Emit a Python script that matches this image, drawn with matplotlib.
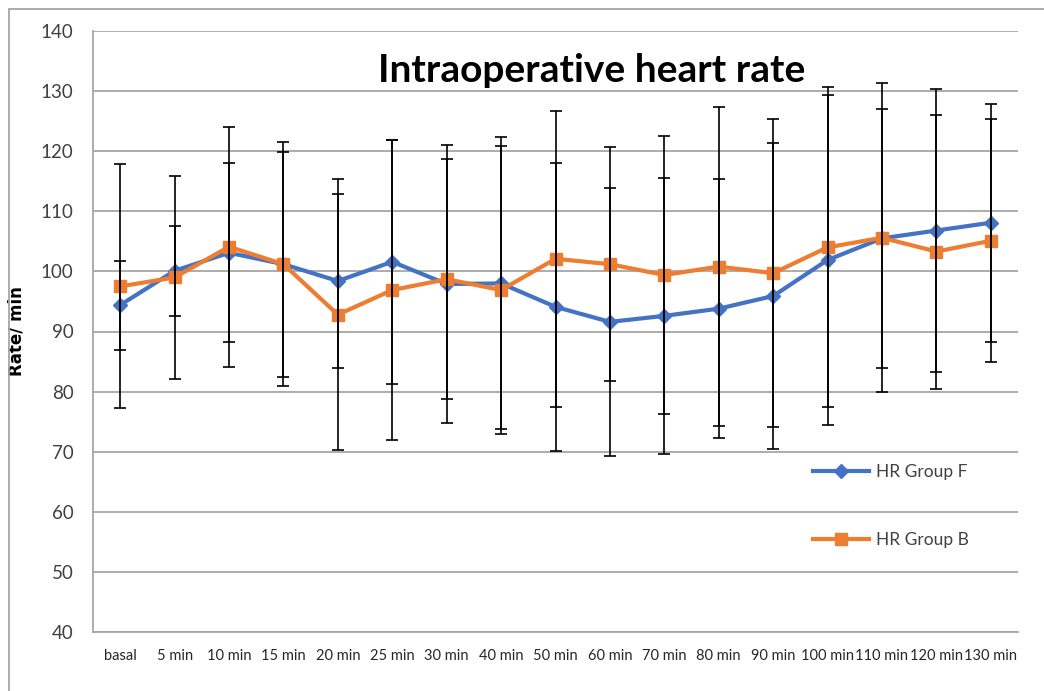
import matplotlib
matplotlib.use("Agg")
import matplotlib.pyplot as plt
from matplotlib.patches import Rectangle

plt.rcParams['font.family'] = ['Lato', 'DejaVu Sans']

# time points
labels = ['basal', '5 min', '10 min', '15 min', '20 min', '25 min', '30 min', '40 min',
          '50 min', '60 min', '70 min', '80 min', '90 min', '100 min', '110 min',
          '120 min', '130 min']

# group F (mean, SD)
hr_f = [94.4, 100.1, 103.1, 101.2, 98.4, 101.6, 97.9, 98.0, 94.1, 91.6, 92.6,
        93.8, 95.9, 101.9, 105.5, 106.8, 108.1]
sd_f = [7.4, 7.5, 14.9, 18.7, 14.4, 20.3, 23.2, 24.3, 24.0, 22.3, 22.9,
        21.6, 25.5, 27.4, 21.6, 23.6, 19.8]

# group B (mean, SD)
hr_b = [97.5, 99.0, 104.1, 101.2, 92.8, 96.9, 98.7, 96.9, 102.1, 101.2, 99.4,
        100.8, 99.7, 104.0, 105.6, 103.3, 105.1]
sd_b = [20.3, 16.9, 20.0, 20.3, 22.6, 25.0, 20.0, 23.9, 24.6, 19.5, 23.1,
        26.5, 25.6, 26.6, 25.7, 22.8, 20.2]

blue = '#4472C4'
orange = '#ED7D31'

fig = plt.figure(figsize=(10.44, 6.91), dpi=100)
ax = fig.add_axes([93/1044, 59/691, 925/1044, 601/691])

x = list(range(len(labels)))

ax.plot(x, hr_f, color=blue, lw=3, marker='D', ms=7, label='HR Group F', zorder=3)
ax.plot(x, hr_b, color=orange, lw=3, marker='s', ms=9, label='HR Group B', zorder=4)

# error bars (black, drawn over the lines)
ax.errorbar(x, hr_f, yerr=sd_f, fmt='none', ecolor='black', elinewidth=1.2,
            capsize=4.5, capthick=1.2, zorder=5)
ax.errorbar(x, hr_b, yerr=sd_b, fmt='none', ecolor='black', elinewidth=1.2,
            capsize=4.5, capthick=1.2, zorder=5)

ax.set_xlim(-0.5, len(labels) - 0.5)
ax.set_ylim(40, 140)
ax.set_yticks(range(40, 141, 10))
ax.set_xticks(x)
ax.set_xticklabels(labels, fontsize=10.5, color='#262626')
ax.tick_params(axis='y', labelsize=13.5, colors='#404040', length=0, pad=14)
ax.tick_params(axis='x', length=0, pad=12)

ax.yaxis.grid(True, color='#a6a6a6', lw=1.3)
ax.set_axisbelow(True)
for s in ['top', 'right']:
    ax.spines[s].set_visible(False)
ax.spines['left'].set_color('#a6a6a6')
ax.spines['bottom'].set_color('#a6a6a6')
ax.spines['left'].set_linewidth(1.3)
ax.spines['bottom'].set_linewidth(1.3)

ax.set_ylabel('Rate/ min', fontsize=12, fontweight='bold', family='DejaVu Sans')
ax.yaxis.set_label_coords(-0.0735, 0.5)

fig.text(592/1044, 1 - 70/691, 'Intraoperative heart rate', fontsize=28,
         fontweight='bold', ha='center', va='center')

leg = ax.legend(loc='upper left', bbox_to_anchor=(0.762, 0.305), frameon=False,
                fontsize=12.5, labelspacing=3.0, handlelength=3.2,
                handletextpad=0.4, labelcolor='#404040')

# outer chart border
fig.patches.append(Rectangle((9/1044, -0.1), 1.2, (682/691) + 0.1,
                             transform=fig.transFigure, fill=False,
                             edgecolor='#a6a6a6', lw=1.3))

fig.savefig('out.png', dpi=100)
